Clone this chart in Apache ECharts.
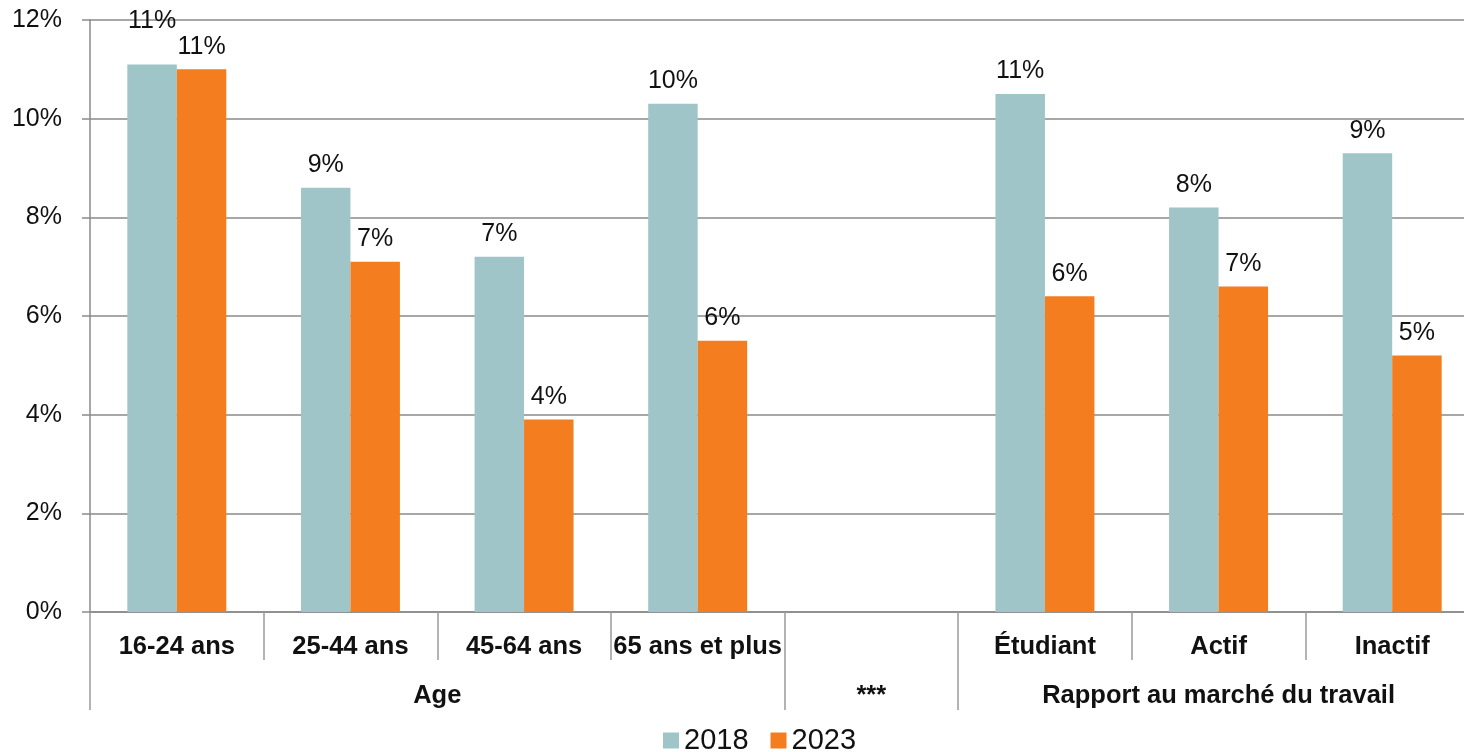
<!DOCTYPE html>
<html><head><meta charset="utf-8">
<script src="https://cdn.jsdelivr.net/npm/echarts@6/dist/echarts.min.js"></script>
<style>html,body{margin:0;padding:0;background:#fff}#c{width:1464px;height:752px}</style>
</head><body><div id="c"></div>
<script>
const categories = ['16-24 ans','25-44 ans','45-64 ans','65 ans et plus','','Étudiant','Actif','Inactif'];
const values2018 = [11.1, 8.6, 7.2, 10.3, null, 10.5, 8.2, 9.3];
const values2023 = [11.0, 7.1, 3.9, 5.5, null, 6.4, 6.6, 5.2];
const groupLabels = {4: 'Age', 9: '***', 13: 'Rapport au marché du travail'}; // keyed by half-slot position
const groupStarts = [0, 4, 5];
const yTicks = [0, 2, 4, 6, 8, 10, 12];

const FONT = "'Liberation Sans', Arial, sans-serif";
const GRAY = '#8a8a8a';
const chart = echarts.init(document.getElementById('c'));
const lbl = {
  show: true, position: 'top', distance: 10,
  fontFamily: FONT, fontSize: 25, color: '#111',
  formatter: p => (p.value == null ? '' : Math.round(p.value) + '%')
};
// first 2018 label is lifted in the original to avoid overlapping its neighbour
const data2018 = values2018.map((v, i) => i === 0 ? {value: v, label: {offset: [0, -21]}} : v);
chart.setOption({
  animation: false,
  textStyle: {fontFamily: FONT},
  grid: {left: 90, right: -15, top: 20, bottom: 140, containLabel: false, outerBoundsMode: 'none'},
  legend: {
    left: 658, top: 721, itemWidth: 16, itemHeight: 16, itemGap: 22,
    icon: 'rect',
    textStyle: {fontFamily: FONT, fontSize: 29, color: '#111'},
    data: ['2018', '2023']
  },
  xAxis: [
    {
      type: 'category', data: categories, position: 'bottom',
      axisLine: {lineStyle: {color: GRAY, width: 1.5}},
      axisTick: {show: true, interval: 0, length: 48, lineStyle: {color: '#9a9a9a', width: 1.5}},
      axisLabel: {interval: 0, margin: 22, fontFamily: FONT, fontSize: 25.5, fontWeight: 'bold', color: '#111'}
    },
    {
      type: 'category', data: categories, position: 'bottom', offset: 48,
      axisLine: {show: false},
      axisTick: {show: true, length: 50, interval: (i) => groupStarts.indexOf(i) >= 0, lineStyle: {color: '#9a9a9a', width: 1.5}},
      axisLabel: {show: false}
    },
    {
      type: 'value', min: 0, max: 16, interval: 1, position: 'bottom', offset: 48,
      axisLine: {show: false}, axisTick: {show: false}, splitLine: {show: false},
      axisLabel: {
        margin: 23, fontFamily: FONT, fontSize: 25.5, fontWeight: 'bold', color: '#111',
        showMinLabel: true, showMaxLabel: true,
        formatter: v => groupLabels[v] || ''
      }
    }
  ],
  yAxis: {
    type: 'value', min: yTicks[0], max: yTicks[yTicks.length - 1], interval: 2,
    axisLine: {show: true, lineStyle: {color: GRAY, width: 1.5}},
    axisTick: {show: true, length: 8, lineStyle: {color: GRAY, width: 1.5}},
    splitLine: {show: true, lineStyle: {color: GRAY, width: 1.5}},
    axisLabel: {margin: 28, fontFamily: FONT, fontSize: 25, color: '#111', formatter: '{value}%'}
  },
  series: [
    {name: '2018', type: 'bar', xAxisIndex: 0, data: data2018, barGap: '0%', barCategoryGap: '43%',
     itemStyle: {color: '#9fc5c8'}, label: lbl},
    {name: '2023', type: 'bar', xAxisIndex: 0, data: values2023, barGap: '0%', barCategoryGap: '43%',
     itemStyle: {color: '#f47d20'}, label: lbl}
  ]
});
</script></body></html>
